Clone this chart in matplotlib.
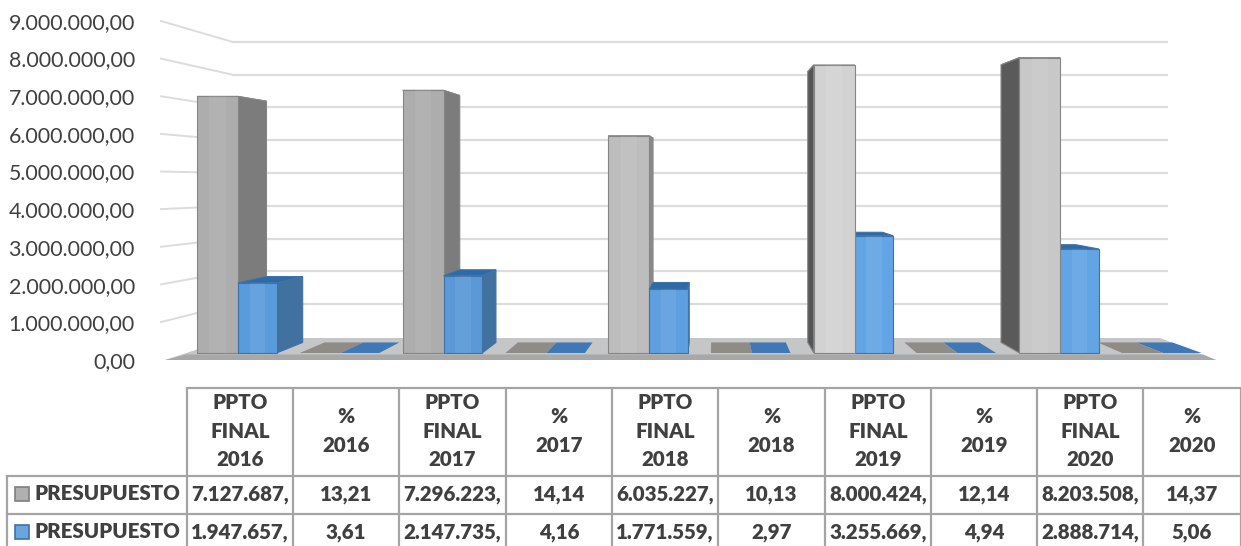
# -*- coding: utf-8 -*-
""" Presupuesto chart, 3D look columns with data table below """
import matplotlib
matplotlib.use('Agg')
import matplotlib.pyplot as plt
from matplotlib.patches import Polygon, Rectangle

plt.rcParams['font.family'] = ['Lato', 'DejaVu Sans']

# data
categories = ['PPTO\nFINAL\n2016', '%\n2016', 'PPTO\nFINAL\n2017', '%\n2017', 'PPTO\nFINAL\n2018',
              '%\n2018', 'PPTO\nFINAL\n2019', '%\n2019', 'PPTO\nFINAL\n2020', '%\n2020']
serie_a = [7127687, 13.21, 7296223, 14.14, 6035227, 10.13, 8000424, 12.14, 8203508, 14.37]
serie_b = [1947657, 3.61, 2147735, 4.16, 1771559, 2.97, 3255669, 4.94, 2888714, 5.06]
row_a = ['7.127.687,', '13,21', '7.296.223,', '14,14', '6.035.227,', '10,13', '8.000.424,', '12,14', '8.203.508,', '14,37']
row_b = ['1.947.657,', '3,61', '2.147.735,', '4,16', '1.771.559,', '2,97', '3.255.669,', '4,94', '2.888.714,', '5,06']
row_name = 'PRESUPUESTO'
y_ticks = [0, 1000000, 2000000, 3000000, 4000000, 5000000, 6000000, 7000000, 8000000, 9000000]

W, H = 1241, 546
GREY_FRONT = ['#adadad', '#8f8b87', '#adadad', '#8f8b87', '#bdbdbd', '#8f8b87', '#d2d2d2', '#8f8b87', '#c8c8c8', '#8f8b87']
GREY_SIDE = ['#7c7c7c', '#7c7c7c', '#7c7c7c', '#7c7c7c', '#8a8a8a', '#7c7c7c', '#555555', '#7c7c7c', '#5a5a5a', '#7c7c7c']
BLUE_FRONT = ['#5a9bdc', '#3f78b5', '#5a98d8', '#3f78b5', '#5f9fdf', '#3f78b5', '#63a4e4', '#3f78b5', '#63a4e4', '#3f78b5']
BLUE_SIDE = '#41729f'
BLUE_TOP = '#2f6aa8'
LINE = '#dcdcdc'
TEXT = '#404040'
TABLE_FONT = dict(fontsize=14.8, fontweight='heavy', color=TEXT)

# perspective of the bars
VX, VY_PX, DEPTH = 713.0, 177.0, 0.94
PX_PER_VALUE = 36.0 / 1e6
BASE_PX = 353.0
VY = (BASE_PX - VY_PX) / PX_PER_VALUE


def back(x, y):
    return VX + DEPTH * (x - VX), VY + DEPTH * (y - VY)


def tick_px(v):
    """ pixel row of a y tick label """
    return 360.0 - 37.7 * v / 1e6


def wall_px(v):
    """ pixel row of a gridline on the back wall """
    return 337.0 - 32.8 * v / 1e6


fig = plt.figure(figsize=(W / 100, H / 100), dpi=100, facecolor='white')

# background layer in pixels: floor, gridlines, table
bg = fig.add_axes([0, 0, 1, 1], zorder=1)
bg.set_xlim(0, W)
bg.set_ylim(H, 0)
bg.axis('off')

for v in y_ticks[1:]:
    bg.plot([232, 1168], [wall_px(v), wall_px(v)], color=LINE, lw=1.6, solid_capstyle='butt')
    bg.plot([160, 232], [tick_px(v), wall_px(v)], color=LINE, lw=1.4, solid_capstyle='butt')

bg.add_patch(Polygon([(165, 360), (1216, 360), (1160, 338), (232, 338)], fc='#c4c6c8', ec='none'))
bg.add_patch(Polygon([(165, 360), (1216, 360), (1203, 354.5), (186, 354.5)], fc='#a8a8a8', ec='none'))

# bars
ax = fig.add_axes([0, 0, 1, 1], zorder=2)
ax.set_xlim(0, W)
ax.set_ylim(BASE_PX / PX_PER_VALUE - H / PX_PER_VALUE, BASE_PX / PX_PER_VALUE)
ax.axis('off')


def column(left, width, value, front, side, top, edge):
    right = left + width
    (bl, tb), (br, _) = back(left, value), back(right, value)
    _, bb = back(left, 0)
    ax.add_patch(Polygon([(left, value), (right, value), (br, tb), (bl, tb)], fc=top, ec=edge, lw=0.8))
    if left > VX:
        ax.add_patch(Polygon([(left, 0), (left, value), (bl, tb), (bl, bb)], fc=side, ec=edge, lw=0.8))
    else:
        ax.add_patch(Polygon([(right, 0), (right, value), (br, tb), (br, bb)], fc=side, ec=edge, lw=0.8))
    if value > 1000:
        ax.bar(left, value, width=width, align='edge', color=front, edgecolor=edge, linewidth=0.8)
        # soft band in the middle of the face
        ax.bar(left + width * 0.3, value, width=width * 0.4, align='edge', color='white', alpha=0.07, linewidth=0)


for i in range(len(categories)):
    x0 = 197 + 102.8 * i
    is_flat = i % 2 == 1
    grey = (x0, 41, serie_a[i], GREY_FRONT[i], GREY_SIDE[i], GREY_FRONT[i] if is_flat else '#909090',
            '#858585' if not is_flat else 'none')
    blue = (x0 + 41, 38.5, serie_b[i], BLUE_FRONT[i], BLUE_SIDE, BLUE_TOP if not is_flat else BLUE_FRONT[i],
            '#3f72a6' if not is_flat else 'none')
    # the nearer column goes last, it depends on the side of the vanishing point
    if x0 > VX:
        column(*blue)
        column(*grey)
    else:
        column(*grey)
        column(*blue)

# y axis labels
axl = fig.add_axes([146 / W, 1 - tick_px(0) / H, 4 / W, (tick_px(0) - tick_px(9000000)) / H], zorder=3)
axl.set_ylim(0, 9000000)
axl.patch.set_alpha(0)
for s in axl.spines.values():
    s.set_visible(False)
axl.set_xticks([])
axl.set_yticks(y_ticks)
axl.set_yticklabels([f'{v:,.2f}'.replace(',', 'X').replace('.', ',').replace('X', '.') for v in y_ticks],
                    fontsize=15.4, color=TEXT)
axl.tick_params(axis='y', length=0, pad=8)

# table
col_x = [187, 293, 399, 506, 612, 718, 825, 931, 1037, 1143, 1241]
row_y = [388, 476, 514, 546]
GRID = '#a4a4a4'
for cx in col_x:
    bg.plot([cx, cx], [row_y[0], row_y[-1]], color=GRID, lw=1.6, solid_capstyle='butt')
bg.plot([col_x[0], col_x[-1]], [row_y[0], row_y[0]], color=GRID, lw=1.6)
bg.plot([7, col_x[-1]], [row_y[1], row_y[1]], color=GRID, lw=1.6)
bg.plot([7, col_x[-1]], [row_y[2], row_y[2]], color=GRID, lw=1.6)
bg.plot([7, 7], [row_y[1], row_y[3]], color=GRID, lw=1.6, solid_capstyle='butt')

for i, label in enumerate(categories):
    xc = (col_x[i] + col_x[i + 1]) / 2
    bg.text(xc, 431, label, ha='center', va='center', linespacing=1.62, **TABLE_FONT)
    bg.text(xc, 494, row_a[i], ha='center', va='center', **TABLE_FONT)
    bg.text(xc, 532, row_b[i], ha='center', va='center', **TABLE_FONT)

bg.add_patch(Rectangle((15, 487), 14, 14, fc='#b0b0b0', ec='#7f7f7f', lw=1.2))
bg.add_patch(Rectangle((15, 525), 14, 14, fc='#6aa5dc', ec='#3f72a6', lw=1.2))
bg.text(35, 494, row_name, ha='left', va='center', **TABLE_FONT)
bg.text(35, 532, row_name, ha='left', va='center', **TABLE_FONT)

fig.savefig('out.png', dpi=100)
